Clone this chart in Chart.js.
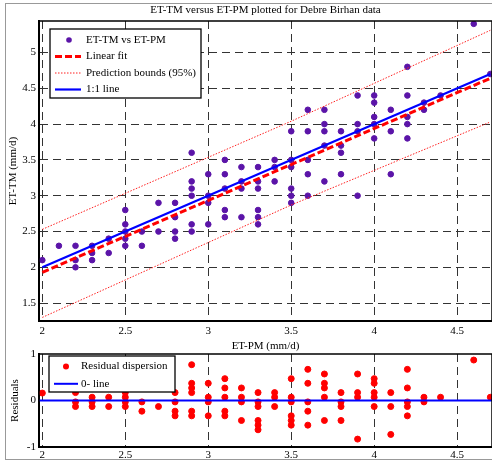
<!DOCTYPE html>
<html>
<head>
<meta charset="utf-8">
<script src="https://cdn.jsdelivr.net/npm/chart.js@4.4.1/dist/chart.umd.min.js"></script>
<style>
  body { margin: 0; background: #fff; }
  #wrap { position: relative; width: 492px; height: 463px; overflow: hidden; background: #fff; }
  #outer { position: absolute; left: 5px; top: 3px; width: 500px; height: 455px;
           border-left: 1.5px solid #999; border-top: 1.5px solid #999; border-bottom: 1.5px solid #999; }
  canvas { position: absolute; left: 0; }
  #top { top: 0; }
  #bot { top: 336px; }
</style>
</head>
<body>
<div id="wrap">
  <div id="outer"></div>
  <canvas id="top" width="492" height="356"></canvas>
  <canvas id="bot" width="492" height="127"></canvas>
</div>
<script>
// ET-PM (x) / ET-TM (y) measured pairs, and residuals of the linear fit
const etpm = [2.0, 2.1, 2.2, 2.2, 2.2, 2.3, 2.3, 2.3, 2.4, 2.4,
  2.5, 2.5, 2.5, 2.5, 2.5, 2.6, 2.6, 2.7, 2.7, 2.8, 2.8, 2.8, 2.8,
  2.9, 2.9, 2.9, 2.9, 2.9, 2.9, 3.0, 3.0, 3.0, 3.0,
  3.1, 3.1, 3.1, 3.1, 3.1, 3.2, 3.2, 3.2, 3.2,
  3.3, 3.3, 3.3, 3.3, 3.3, 3.3, 3.4, 3.4, 3.4,
  3.5, 3.5, 3.5, 3.5, 3.5, 3.5, 3.6, 3.6, 3.6, 3.6, 3.6,
  3.7, 3.7, 3.7, 3.7, 3.7, 3.8, 3.8, 3.8, 3.8, 3.9, 3.9, 3.9, 3.9,
  4.0, 4.0, 4.0, 4.0, 4.0, 4.1, 4.1, 4.1, 4.2, 4.2, 4.2, 4.2, 4.2,
  4.3, 4.3, 4.4, 4.6, 4.7];
const ettm = [2.1, 2.3, 2.3, 2.1, 2.0, 2.3, 2.2, 2.1, 2.4, 2.2,
  2.8, 2.6, 2.5, 2.4, 2.3, 2.5, 2.3, 2.9, 2.5, 2.9, 2.7, 2.5, 2.4,
  3.6, 3.2, 3.1, 3.0, 2.6, 2.5, 3.3, 3.0, 2.9, 2.6,
  3.5, 3.3, 3.1, 2.8, 2.7, 3.4, 3.2, 3.1, 2.7,
  3.4, 3.2, 3.1, 2.8, 2.7, 2.6, 3.5, 3.4, 3.2,
  3.9, 3.5, 3.4, 3.1, 3.0, 2.9, 4.2, 3.9, 3.5, 3.3, 3.0,
  4.2, 4.0, 3.9, 3.7, 3.2, 3.9, 3.7, 3.6, 3.3, 4.4, 4.0, 3.9, 3.0,
  4.4, 4.3, 4.1, 4.0, 3.8, 4.2, 3.9, 3.3, 4.8, 4.4, 4.1, 4.0, 3.8,
  4.3, 4.2, 4.4, 5.4, 4.7];
const residual = [0.16, 0.27, 0.17, -0.03, -0.13, 0.07, -0.03, -0.13, 0.07, -0.13,
  0.37, 0.17, 0.07, -0.03, -0.13, -0.03, -0.23, 0.27, -0.13, 0.17, -0.03, -0.23, -0.33,
  0.77, 0.37, 0.27, 0.17, -0.23, -0.33, 0.37, 0.07, -0.03, -0.33,
  0.47, 0.27, 0.07, -0.23, -0.33, 0.27, 0.07, -0.03, -0.43,
  0.17, -0.03, -0.13, -0.43, -0.53, -0.63, 0.17, 0.07, -0.13,
  0.47, 0.07, -0.03, -0.33, -0.43, -0.53, 0.67, 0.37, -0.03, -0.23, -0.53,
  0.57, 0.37, 0.27, 0.07, -0.43, 0.17, -0.03, -0.13, -0.43, 0.57, 0.17, 0.07, -0.83,
  0.47, 0.37, 0.17, 0.07, -0.13, 0.17, -0.13, -0.73, 0.67, 0.27, -0.03, -0.13, -0.33,
  0.07, -0.03, 0.07, 0.87, 0.07];

// fitted line, 95% prediction bounds, 1:1 line
const fitX = [2.0, 4.7];
const fitY = [1.93, 4.64];
const boundX = [2.0, 3.5, 4.7];
const boundUp = [2.53, 4.04, 5.31];
const boundLow = [1.30, 2.87, 4.03];
const oneX = [2.0, 4.7];
const oneY = [2.0, 4.7];
const zeroY = [0, 0];

// axes
const xMin = 1.98, xMax = 4.71;
const yMin = 1.25, yMax = 5.44;
const xTicks = [2, 2.5, 3, 3.5, 4, 4.5];
const yTicks = [1.5, 2, 2.5, 3, 3.5, 4, 4.5, 5];
const resTicks = [-1, 0, 1];

const FONT = { family: "'Liberation Serif', 'Times New Roman', serif", size: 11, weight: 'normal' };
const pts = (xs, ys) => xs.map((x, i) => ({ x: x, y: ys[i] }));

// black box around the plot area
const frame = {
  id: 'frame',
  afterDatasetsDraw(chart) {
    const a = chart.chartArea, ctx = chart.ctx;
    ctx.save();
    ctx.strokeStyle = '#000';
    ctx.lineWidth = 1.5;
    ctx.strokeRect(a.left, a.top, a.right - a.left, a.bottom - a.top);
    ctx.restore();
  }
};

// matlab-like boxed legend inside the axes
const boxLegend = {
  id: 'boxLegend',
  afterDatasetsDraw(chart, args, o) {
    const ctx = chart.ctx;
    ctx.save();
    ctx.fillStyle = '#fff';
    ctx.fillRect(o.x, o.y, o.w, o.h);
    ctx.strokeStyle = '#000';
    ctx.lineWidth = 1.3;
    ctx.strokeRect(o.x, o.y, o.w, o.h);
    const items = chart.data.datasets.filter(d => !d.noLegend);
    items.forEach((d, i) => {
      const cy = o.y + o.first + i * o.row;
      if (!d.showLine) {
        ctx.fillStyle = d.backgroundColor;
        ctx.beginPath();
        ctx.arc(o.x + o.dot, cy, d.pointRadius, 0, Math.PI * 2);
        ctx.fill();
      } else {
        ctx.strokeStyle = d.borderColor;
        ctx.lineWidth = d.borderWidth;
        ctx.setLineDash(d.borderDash || []);
        ctx.beginPath();
        ctx.moveTo(o.x + o.l0, cy);
        ctx.lineTo(o.x + o.l1, cy);
        ctx.stroke();
        ctx.setLineDash([]);
      }
      ctx.fillStyle = '#000';
      ctx.font = FONT.size + 'px ' + FONT.family;
      ctx.textBaseline = 'middle';
      ctx.fillText(d.label, o.x + o.tx, cy);
    });
    ctx.restore();
  }
};

const gridStyle = { color: '#333', lineWidth: 1, drawTicks: false };
const axisBorder = { display: true, color: '#000', width: 2, dash: [8, 5] };

new Chart(document.getElementById('top'), {
  type: 'scatter',
  data: {
    datasets: [
      { label: 'ET-TM vs ET-PM', data: pts(etpm, ettm), backgroundColor: '#5b14a8',
        borderColor: '#5b14a8', pointRadius: 2.8, showLine: false, order: 4 },
      { label: 'Linear fit', data: pts(fitX, fitY), showLine: true, borderColor: '#ff0000',
        borderWidth: 3, borderDash: [7, 3], pointRadius: 0, order: 3 },
      { label: 'Prediction bounds (95%)', data: pts(boundX, boundUp), showLine: true,
        borderColor: '#ff2020', borderWidth: 1, borderDash: [1.5, 1.5], pointRadius: 0, order: 2 },
      { label: 'Prediction bounds (95%)', data: pts(boundX, boundLow), showLine: true, noLegend: true,
        borderColor: '#ff2020', borderWidth: 1, borderDash: [1.5, 1.5], pointRadius: 0, order: 2 },
      { label: '1:1 line', data: pts(oneX, oneY), showLine: true, borderColor: '#0000ff',
        borderWidth: 2.2, pointRadius: 0, order: 1 }
    ]
  },
  options: {
    responsive: false,
    animation: false,
    layout: { autoPadding: false, padding: { left: 0, right: 0, top: 0, bottom: 0 } },
    scales: {
      x: {
        type: 'linear', min: xMin, max: xMax,
        afterBuildTicks: s => { s.ticks = xTicks.map(v => ({ value: v })); },
        afterFit: s => { s.height = 35; },
        grid: gridStyle, border: axisBorder,
        ticks: { padding: 4, font: FONT, color: '#000', callback: v => String(v) },
        title: { display: true, text: 'ET-PM (mm/d)', font: FONT, color: '#000',
                 padding: { top: 0, bottom: 3.4 } }
      },
      y: {
        type: 'linear', min: yMin, max: yMax,
        afterBuildTicks: s => { s.ticks = yTicks.map(v => ({ value: v })); },
        afterFit: s => { s.width = 39; },
        grid: gridStyle, border: axisBorder,
        ticks: { padding: 3, font: FONT, color: '#000', callback: v => String(v) },
        title: { display: true, text: 'ET-TM (mm/d)', font: FONT, color: '#000',
                 padding: { top: 6.4, bottom: 0 } }
      }
    },
    plugins: {
      legend: { display: false },
      tooltip: { enabled: false },
      title: { display: true, fullSize: false, text: 'ET-TM versus ET-PM plotted for Debre Birhan data',
               font: FONT, color: '#000', padding: { top: 4, bottom: 3.8 } },
      boxLegend: { x: 50, y: 29, w: 151, h: 69, first: 11, row: 16.5, dot: 19, l0: 5, l1: 31, tx: 36 }
    }
  },
  plugins: [frame, boxLegend]
});

new Chart(document.getElementById('bot'), {
  type: 'scatter',
  data: {
    datasets: [
      { label: 'Residual dispersion', data: pts(etpm, residual), backgroundColor: '#ff0000',
        borderColor: '#ff0000', pointRadius: 3, showLine: false, order: 2 },
      { label: '0- line', data: pts([xMin, xMax], zeroY), showLine: true, borderColor: '#0000ff',
        borderWidth: 2, pointRadius: 0, order: 1 }
    ]
  },
  options: {
    responsive: false,
    animation: false,
    layout: { autoPadding: false, padding: { left: 0, right: 0, top: 18, bottom: 0 } },
    scales: {
      x: {
        type: 'linear', min: xMin, max: xMax,
        afterBuildTicks: s => { s.ticks = xTicks.map(v => ({ value: v })); },
        afterFit: s => { s.height = 16; },
        grid: gridStyle, border: axisBorder,
        ticks: { padding: 2, font: FONT, color: '#000', callback: v => String(v) }
      },
      y: {
        type: 'linear', min: -1, max: 1,
        afterBuildTicks: s => { s.ticks = resTicks.map(v => ({ value: v })); },
        afterFit: s => { s.width = 39; },
        grid: { display: false, drawTicks: false }, border: axisBorder,
        ticks: { padding: 3, font: FONT, color: '#000', callback: v => String(v) },
        title: { display: true, text: 'Residuals', font: FONT, color: '#000',
                 padding: { top: 8.4, bottom: 0 } }
      }
    },
    plugins: {
      legend: { display: false },
      tooltip: { enabled: false },
      boxLegend: { x: 49, y: 20, w: 126, h: 36, first: 10.5, row: 17.3, dot: 17, l0: 5, l1: 29, tx: 32 }
    }
  },
  plugins: [frame, boxLegend]
});
</script>
</body>
</html>
